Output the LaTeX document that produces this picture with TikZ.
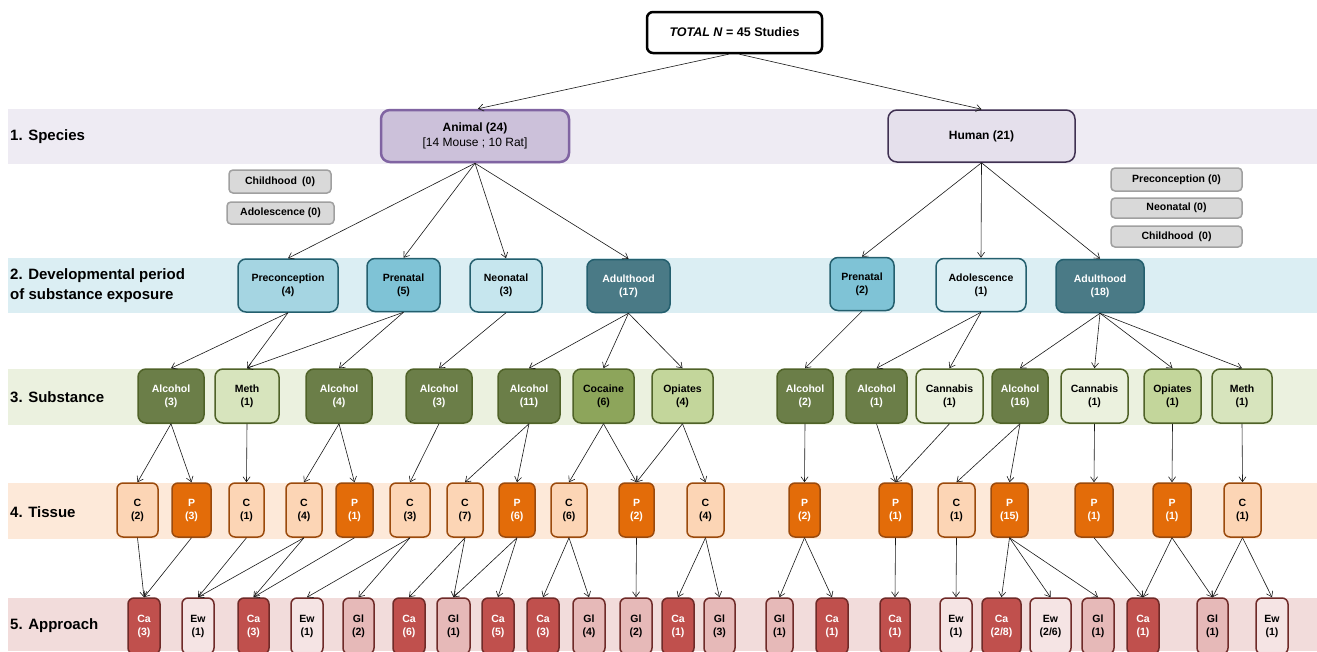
\documentclass[tikz,border=0pt]{standalone}
\usepackage{fontspec}
\setmainfont{Liberation Sans}
\usetikzlibrary{arrows.meta}
\definecolor{bandA}{HTML}{EEEBF3}
\definecolor{bandB}{HTML}{DBEEF3}
\definecolor{bandC}{HTML}{EBF1DF}
\definecolor{bandD}{HTML}{FDE9D9}
\definecolor{bandE}{HTML}{F2DCDB}
\definecolor{anFill}{HTML}{CCC1DA}
\definecolor{anDraw}{HTML}{8064A2}
\definecolor{huFill}{HTML}{E5E0EC}
\definecolor{huDraw}{HTML}{403152}
\definecolor{grFill}{HTML}{D9D9D9}
\definecolor{grDraw}{HTML}{A0A0A0}
\definecolor{devB}{HTML}{245F6E}
\definecolor{dPre}{HTML}{A5D5E2}
\definecolor{dPrn}{HTML}{7FC3D6}
\definecolor{dNeo}{HTML}{C6E6EE}
\definecolor{dAdu}{HTML}{4A7A86}
\definecolor{dAdo}{HTML}{DCEFF4}
\definecolor{grnB}{HTML}{4F6228}
\definecolor{gAlc}{HTML}{6B7E48}
\definecolor{gCoc}{HTML}{8DA55B}
\definecolor{gOpi}{HTML}{C3D69B}
\definecolor{gMet}{HTML}{D7E4BD}
\definecolor{gCan}{HTML}{EBF1DE}
\definecolor{oraB}{HTML}{9B4A0C}
\definecolor{oC}{HTML}{FCD5B5}
\definecolor{oP}{HTML}{E36C09}
\definecolor{redB}{HTML}{6F2A28}
\definecolor{rCa}{HTML}{C0504D}
\definecolor{rEw}{HTML}{F5E4E4}
\definecolor{rGl}{HTML}{E6B9B8}
\tikzset{
  box/.style={rounded corners=6pt, align=center, inner sep=0pt, line width=1.5pt,
    font=\fontsize{10.5}{13}\selectfont\bfseries},
  dev/.style={box, draw=devB, minimum height=53pt, rounded corners=8pt},
  sub/.style={box, draw=grnB, minimum height=54pt, rounded corners=8pt},
  tis/.style={box, draw=oraB, minimum height=54pt},
  app/.style={box, draw=redB, minimum height=56pt},
  gray/.style={box, fill=grFill, draw=grDraw, minimum height=22pt, rounded corners=4pt,
    font=\fontsize{10.5}{13}\selectfont\bfseries},
  rowlab/.style={anchor=west, align=left, inner sep=0pt, font=\fontsize{15}{20}\selectfont\bfseries},
  arr/.style={-{Straight Barb[length=5pt,width=7pt]}, line width=0.6pt, draw=black!90}
}
\begin{document}
\begin{tikzpicture}[x=1pt,y=-1pt]
\useasboundingbox (0,0) rectangle (1317,651);
\fill[white] (0,0) rectangle (1317,651);
% bands
\fill[bandA] (8,109) rectangle (1317,164);
\fill[bandB] (8,258) rectangle (1317,313);
\fill[bandC] (8,369) rectangle (1317,425);
\fill[bandD] (8,483) rectangle (1317,539);
\fill[bandE] (8,598) rectangle (1317,651);
% row labels
\node[rowlab] (l1) at (10,137) {1. Species};
\node[rowlab] (l2) at (10,286) {2. Developmental period\\of substance exposure};
\node[rowlab] (l3) at (10,397) {3. Substance};
\node[rowlab] (l4) at (10,512) {4. Tissue};
\node[rowlab] (l5) at (10,626) {5. Approach};
% top
\node[box, draw=black, fill=white, line width=2.5pt, minimum width=175pt, minimum height=41pt,
  font=\fontsize{12.5}{15}\selectfont\bfseries] (total) at (734.5,32.5) {\textit{TOTAL N} = 45 Studies};
\node[box, draw=anDraw, fill=anFill, line width=2.5pt, minimum width=188pt, minimum height=52pt,
  rounded corners=9pt, font=\fontsize{12}{15}\selectfont\bfseries] (animal) at (475,136)
  {Animal (24)\\{\mdseries [14 Mouse ; 10 Rat]}};
\node[box, draw=huDraw, fill=huFill, line width=1.5pt, minimum width=187pt, minimum height=52pt,
  rounded corners=9pt, font=\fontsize{12}{15}\selectfont\bfseries] (human) at (981.5,136) {Human (21)};
% gray boxes
\node[gray, minimum width=102pt, minimum height=23pt] (g1) at (280,181.5) {Childhood\enspace(0)};
\node[gray, minimum width=107pt] (g2) at (280.5,213) {Adolescence (0)};
\node[gray, minimum width=131pt, minimum height=23pt] (g3) at (1176.5,179.5) {Preconception (0)};
\node[gray, minimum width=131pt, minimum height=20pt] (g4) at (1176.5,208) {Neonatal (0)};
\node[gray, minimum width=131pt, minimum height=21pt] (g5) at (1176.5,236.5) {Childhood\enspace(0)};
% developmental
\node[dev, fill=dPre, minimum width=100pt] (d1) at (288,285.5) {Preconception\\(4)};
\node[dev, fill=dPrn, minimum width=73pt] (d2) at (403.5,285) {Prenatal\\(5)};
\node[dev, fill=dNeo, minimum width=72pt] (d3) at (506,285.5) {Neonatal\\(3)};
\node[dev, fill=dAdu, text=white, minimum width=83pt] (d4) at (628.5,286) {Adulthood\\(17)};
\node[dev, fill=dPrn, minimum width=64pt] (d5) at (862,284) {Prenatal\\(2)};
\node[dev, fill=dAdo, minimum width=90pt] (d6) at (981,285) {Adolescence\\(1)};
\node[dev, fill=dAdu, text=white, minimum width=88pt] (d7) at (1100,286) {Adulthood\\(18)};
% substance
\node[sub, fill=gAlc, text=white, minimum width=66pt] (s1) at (171,396) {Alcohol\\(3)};
\node[sub, fill=gMet, minimum width=64pt] (s2) at (247,396) {Meth\\(1)};
\node[sub, fill=gAlc, text=white, minimum width=66pt] (s3) at (339,396) {Alcohol\\(4)};
\node[sub, fill=gAlc, text=white, minimum width=66pt] (s4) at (439,396) {Alcohol\\(3)};
\node[sub, fill=gAlc, text=white, minimum width=62pt] (s5) at (529,396) {Alcohol\\(11)};
\node[sub, fill=gCoc, minimum width=61pt] (s6) at (603.5,396) {Cocaine\\(6)};
\node[sub, fill=gOpi, minimum width=61pt] (s7) at (682.5,396) {Opiates\\(4)};
\node[sub, fill=gAlc, text=white, minimum width=56pt] (s8) at (805,396) {Alcohol\\(2)};
\node[sub, fill=gAlc, text=white, minimum width=61pt] (s9) at (876.5,396) {Alcohol\\(1)};
\node[sub, fill=gCan, minimum width=67pt] (s10) at (949.5,396) {Cannabis\\(1)};
\node[sub, fill=gAlc, text=white, minimum width=56pt] (s11) at (1020,396) {Alcohol\\(16)};
\node[sub, fill=gCan, minimum width=67pt] (s12) at (1094.5,396) {Cannabis\\(1)};
\node[sub, fill=gOpi, minimum width=57pt] (s13) at (1172.5,396) {Opiates\\(1)};
\node[sub, fill=gMet, minimum width=60pt] (s14) at (1242,396) {Meth\\(1)};
% tissue
\node[tis, fill=oC, minimum width=41pt] (t1) at (137.5,510) {C\\(2)};
\node[tis, fill=oP, text=white, minimum width=39pt] (t2) at (191.5,510) {P\\(3)};
\node[tis, fill=oC, minimum width=35pt] (t3) at (246.5,510) {C\\(1)};
\node[tis, fill=oC, minimum width=36pt] (t4) at (304,510) {C\\(4)};
\node[tis, fill=oP, text=white, minimum width=37pt] (t5) at (354.5,510) {P\\(1)};
\node[tis, fill=oC, minimum width=40pt] (t6) at (410,510) {C\\(3)};
\node[tis, fill=oC, minimum width=36pt] (t7) at (465,510) {C\\(7)};
\node[tis, fill=oP, text=white, minimum width=36pt] (t8) at (517,510) {P\\(6)};
\node[tis, fill=oC, minimum width=36pt] (t9) at (569,510) {C\\(6)};
\node[tis, fill=oP, text=white, minimum width=35pt] (t10) at (636.5,510) {P\\(2)};
\node[tis, fill=oC, minimum width=37pt] (t11) at (705.5,510) {C\\(4)};
\node[tis, fill=oP, text=white, minimum width=31pt] (t12) at (804.5,510) {P\\(2)};
\node[tis, fill=oP, text=white, minimum width=33pt] (t13) at (895.5,510) {P\\(1)};
\node[tis, fill=oC, minimum width=37pt] (t14) at (956.5,510) {C\\(1)};
\node[tis, fill=oP, text=white, minimum width=37pt] (t15) at (1009.5,510) {P\\(15)};
\node[tis, fill=oP, text=white, minimum width=38pt] (t16) at (1094,510) {P\\(1)};
\node[tis, fill=oP, text=white, minimum width=38pt] (t17) at (1172,510) {P\\(1)};
\node[tis, fill=oC, minimum width=37pt] (t18) at (1242.5,510) {C\\(1)};
% approach
\node[app, fill=rCa, text=white, minimum width=32pt] (a1) at (144,626) {Ca\\(3)};
\node[app, fill=rEw, minimum width=32pt] (a2) at (198,626) {Ew\\(1)};
\node[app, fill=rCa, text=white, minimum width=31pt] (a3) at (253.5,626) {Ca\\(3)};
\node[app, fill=rEw, minimum width=32pt] (a4) at (307,626) {Ew\\(1)};
\node[app, fill=rGl, minimum width=31pt] (a5) at (358.5,626) {Gl\\(2)};
\node[app, fill=rCa, text=white, minimum width=32pt] (a6) at (409,626) {Ca\\(6)};
\node[app, fill=rGl, minimum width=33pt] (a7) at (453.5,626) {Gl\\(1)};
\node[app, fill=rCa, text=white, minimum width=32pt] (a8) at (498,626) {Ca\\(5)};
\node[app, fill=rCa, text=white, minimum width=32pt] (a9) at (543,626) {Ca\\(3)};
\node[app, fill=rGl, minimum width=32pt] (a10) at (589,626) {Gl\\(4)};
\node[app, fill=rGl, minimum width=32pt] (a11) at (636,626) {Gl\\(2)};
\node[app, fill=rCa, text=white, minimum width=32pt] (a12) at (678,626) {Ca\\(1)};
\node[app, fill=rGl, minimum width=31pt] (a13) at (719.5,626) {Gl\\(3)};
\node[app, fill=rGl, minimum width=27pt] (a14) at (779.5,626) {Gl\\(1)};
\node[app, fill=rCa, text=white, minimum width=32pt] (a15) at (832,626) {Ca\\(1)};
\node[app, fill=rCa, text=white, minimum width=30pt] (a16) at (895,626) {Ca\\(1)};
\node[app, fill=rEw, minimum width=32pt] (a17) at (956,626) {Ew\\(1)};
\node[app, fill=rCa, text=white, minimum width=39pt] (a18) at (1001.5,626) {Ca\\(2/8)};
\node[app, fill=rEw, minimum width=41pt] (a19) at (1050.5,626) {Ew\\(2/6)};
\node[app, fill=rGl, minimum width=32pt] (a20) at (1098,626) {Gl\\(1)};
\node[app, fill=rCa, text=white, minimum width=32pt] (a21) at (1143,626) {Ca\\(1)};
\node[app, fill=rGl, minimum width=31pt] (a22) at (1212.5,626) {Gl\\(1)};
\node[app, fill=rEw, minimum width=32pt] (a23) at (1272,626) {Ew\\(1)};
% connectors
\draw[arr] ([xshift=-6pt]total.south) -- ([xshift=3pt]animal.north);
\draw[arr] ([xshift=5pt]total.south) -- (human.north);
\foreach \a/\b in {animal/d1,animal/d2,animal/d3,animal/d4,human/d5,human/d6,human/d7,
  d1/s1,d1/s2,d2/s2,d2/s3,d3/s4,d4/s5,d4/s6,d4/s7,d5/s8,d6/s9,d6/s10,d7/s11,d7/s12,d7/s13,d7/s14,
  s1/t1,s1/t2,s2/t3,s3/t4,s3/t5,s4/t6,s5/t7,s5/t8,s6/t9,s6/t10,s7/t10,s7/t11,s8/t12,s9/t13,s10/t13,
  s11/t14,s11/t15,s12/t16,s13/t17,s14/t18,
  t1/a1,t2/a1,t3/a2,t4/a2,t4/a3,t5/a3,t6/a4,t6/a5,t7/a6,t7/a7,t8/a7,t8/a8,t9/a9,t9/a10,t10/a11,
  t11/a12,t11/a13,t12/a14,t12/a15,t13/a16,t14/a17,t15/a18,t15/a19,t15/a20,t16/a21,t17/a21,t17/a22,
  t18/a22,t18/a23}
  \draw[arr] (\a.south) -- (\b.north);
\end{tikzpicture}
\end{document}
